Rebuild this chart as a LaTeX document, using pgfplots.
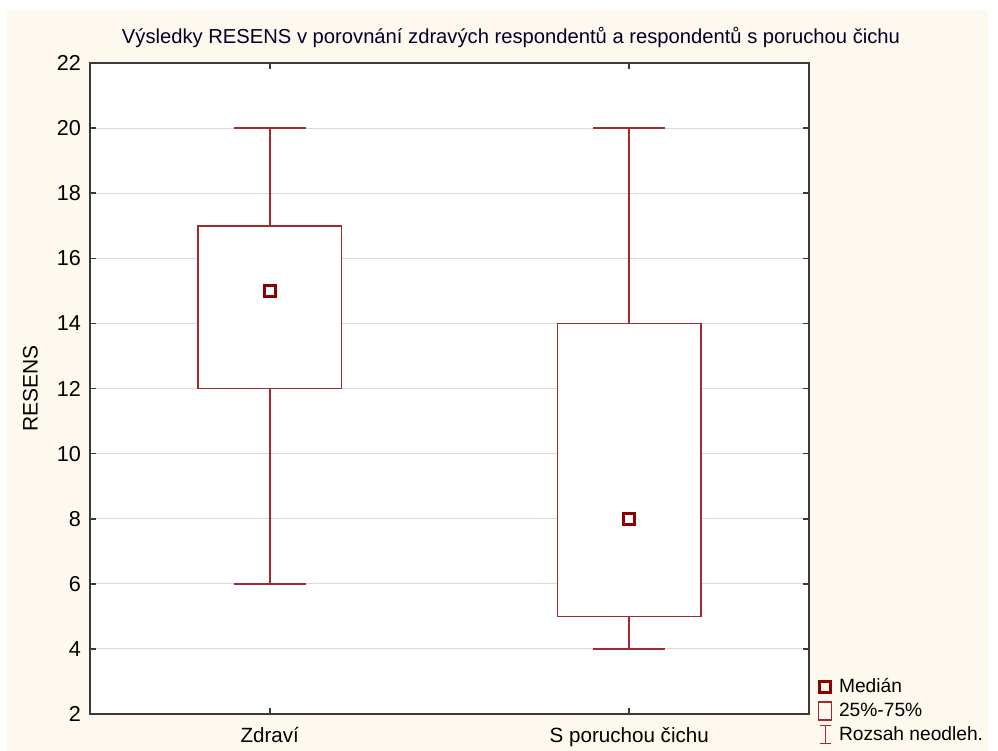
\documentclass[border=0pt]{standalone}
\usepackage{fontspec}
\setmainfont{Liberation Sans}
\usepackage{pgfplots}
\pgfplotsset{compat=1.18}

\definecolor{cream}{HTML}{FEF9EF}
\definecolor{boxred}{RGB}{163,43,48}
\definecolor{medred}{RGB}{139,0,0}
\definecolor{axisgray}{HTML}{3A3A3A}

% box: 25%-75%, whiskers: min-max, median as square
\pgfplotstableread{
pos lo q1 med q3 hi
0   6  12 15  17 20
1   4  5  8   14 20
}\resens

\begin{document}
\begin{tikzpicture}[font=\fontsize{10}{12}\selectfont]
\useasboundingbox (0,0) rectangle (499pt,375.5pt);
\fill[cream] (3.5pt,0) rectangle (494pt,370.5pt);
\node[text=black!85!blue,font=\fontsize{10.1}{12}\selectfont] at (255.5pt,357pt) {Výsledky RESENS v porovnání zdravých respondentů a respondentů s poruchou čichu};
\begin{axis}[
  at={(45pt,18.5pt)}, anchor=south west,
  scale only axis, width=359.5pt, height=325.5pt,
  axis background/.style={fill=white},
  axis line style={axisgray,line width=1pt},
  xmin=-0.5, xmax=1.5, ymin=2, ymax=22,
  xtick={0,1}, xticklabels={Zdraví,S poruchou čichu},
  ytick={2,4,...,22},
  tick align=inside, major tick length=3pt,
  tick style={axisgray,line width=0.8pt},
  ymajorgrids, grid style={black!15,line width=0.6pt},
  ylabel={RESENS},
  ylabel style={at={(axis description cs:-0.083,0.5)},anchor=center,font=\fontsize{10.5}{12}\selectfont},
  xticklabel style={yshift=-3pt,font=\fontsize{10.3}{12}\selectfont},
  yticklabel style={xshift=-1pt,font=\fontsize{10.8}{12}\selectfont},
  /pgf/number format/assume math mode=true,
  legend style={draw=none,fill=none,at={(1.012,0.058)},anchor=north west,
    inner sep=0pt,row sep=1.5pt,nodes={inner sep=1pt},
    font=\fontsize{9.6}{11}\selectfont},
  legend cell align=left,
]
% legend entries
\addlegendimage{legend image code/.code={\path (0,0) (9pt,0);
  \path (3.3pt,0pt) node[anchor=center,draw=medred,line width=1.5pt,minimum size=5.5pt,inner sep=0pt]{};}}
\addlegendentry{Medián}
\addlegendimage{legend image code/.code={\path (0,0) (9pt,0);
  \draw[boxred,line width=0.6pt] (0pt,-4.5pt) rectangle (6.6pt,4.5pt);}}
\addlegendentry{25\%-75\%}
\addlegendimage{legend image code/.code={\path (0,0) (9pt,0);
  \draw[boxred,line width=0.6pt] (3.3pt,-4.5pt)--(3.3pt,4.5pt) (0.5pt,-4.5pt)--(6.1pt,-4.5pt) (0.5pt,4.5pt)--(6.1pt,4.5pt);}}
\addlegendentry{Rozsah neodleh.}
% whiskers with caps
\addplot[boxred,line width=0.8pt,mark=-,mark size=18pt,mark options={solid}]
  coordinates {(0,6) (0,20)};
\addplot[boxred,line width=0.8pt,mark=-,mark size=18pt,mark options={solid}]
  coordinates {(1,4) (1,20)};
% boxes
\addplot[boxred,fill=white,line width=0.8pt,line join=miter]
  coordinates {(-0.2,12) (0.2,12) (0.2,17) (-0.2,17)} -- cycle;
\addplot[boxred,fill=white,line width=0.8pt,line join=miter]
  coordinates {(0.8,5) (1.2,5) (1.2,14) (0.8,14)} -- cycle;
% medians
\addplot[only marks,mark=square,mark size=2.8pt,
  mark options={medred,line width=1.5pt}]
  table[x=pos,y=med] {\resens};
\end{axis}
\end{tikzpicture}
\end{document}
